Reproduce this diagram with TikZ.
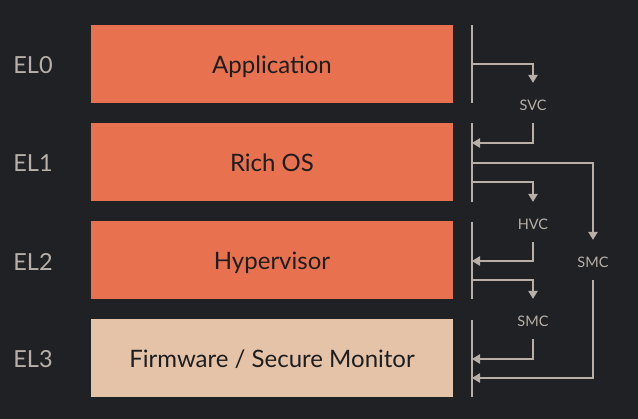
\documentclass[tikz,border=0pt]{standalone}
\usepackage{fontspec}
\setmainfont{Lato}
\usetikzlibrary{arrows.meta}
\definecolor{bgdark}{HTML}{202124}
\definecolor{elorange}{HTML}{E8714F}
\definecolor{elsand}{HTML}{E4C3A9}
\definecolor{wire}{HTML}{B8B0A8}
\definecolor{inkdark}{HTML}{1E1E1E}

\begin{document}
\begin{tikzpicture}[x=1pt, y=-1pt,
  level/.style={draw=none, minimum width=362pt, minimum height=78pt, inner sep=0pt, text height=20.5pt, text depth=2pt, font=\fontsize{24}{28}\selectfont, text=inkdark},
  ellabel/.style={text=wire, font=\fontsize{23.5}{28}\selectfont},
  call/.style={text=wire, minimum height=40pt, inner sep=0pt, text height=17pt, text depth=1.5pt, font=\fontsize{14.5}{17}\selectfont},
  bar/.style={draw=wire, line width=1.1pt},
  arr/.style={draw=wire, line width=1.1pt, -{Triangle[length=8pt, width=9.5pt]}}]
\fill[bgdark] (0,0) rectangle (638,419);
% exception levels
\node[level, fill=elorange] (app) at (272,64) {Application};
\node[level, fill=elorange] (os) at (272,162) {Rich OS};
\node[level, fill=elorange] (hyp) at (272,260.5) {Hypervisor};
\node[level, fill=elsand] (fw) at (272,358.5) {Firmware / Secure Monitor};
\node[ellabel] (el0) at (33,65) {EL0};
\node[ellabel] (el1) at (33,163) {EL1};
\node[ellabel] (el2) at (33,262) {EL2};
\node[ellabel] (el3) at (33,359) {EL3};
% side bars
\draw[bar] (472,25) -- (472,103);
\draw[bar] (472,123) -- (472,202);
\draw[bar] (472,222) -- (472,299);
\draw[bar] (472,320) -- (472,397);
% calls
\node[call] (svc) at (533,103) {SVC};
\node[call] (hvc) at (533,222) {HVC};
\node[call] (smclo) at (533,319) {SMC};
\node[call] (smchi) at (593,260) {SMC};
\coordinate (svcout) at (472,64);
\coordinate (svcin) at (472,143);
\coordinate (smchiout) at (472,163);
\coordinate (smchiin) at (472,378);
\coordinate (hvcout) at (472,182);
\coordinate (hvcin) at (472,261);
\coordinate (smcloout) at (472,280);
\coordinate (smcloin) at (472,359);
\draw[arr] (svcout) -| (svc.north);
\draw[arr] (svc.south) |- (svcin);
\draw[arr] (smchiout) -| (smchi.north);
\draw[arr] (smchi.south) |- (smchiin);
\draw[arr] (hvcout) -| (hvc.north);
\draw[arr] (hvc.south) |- (hvcin);
\draw[arr] (smcloout) -| (smclo.north);
\draw[arr] (smclo.south) |- (smcloin);
\end{tikzpicture}
\end{document}
